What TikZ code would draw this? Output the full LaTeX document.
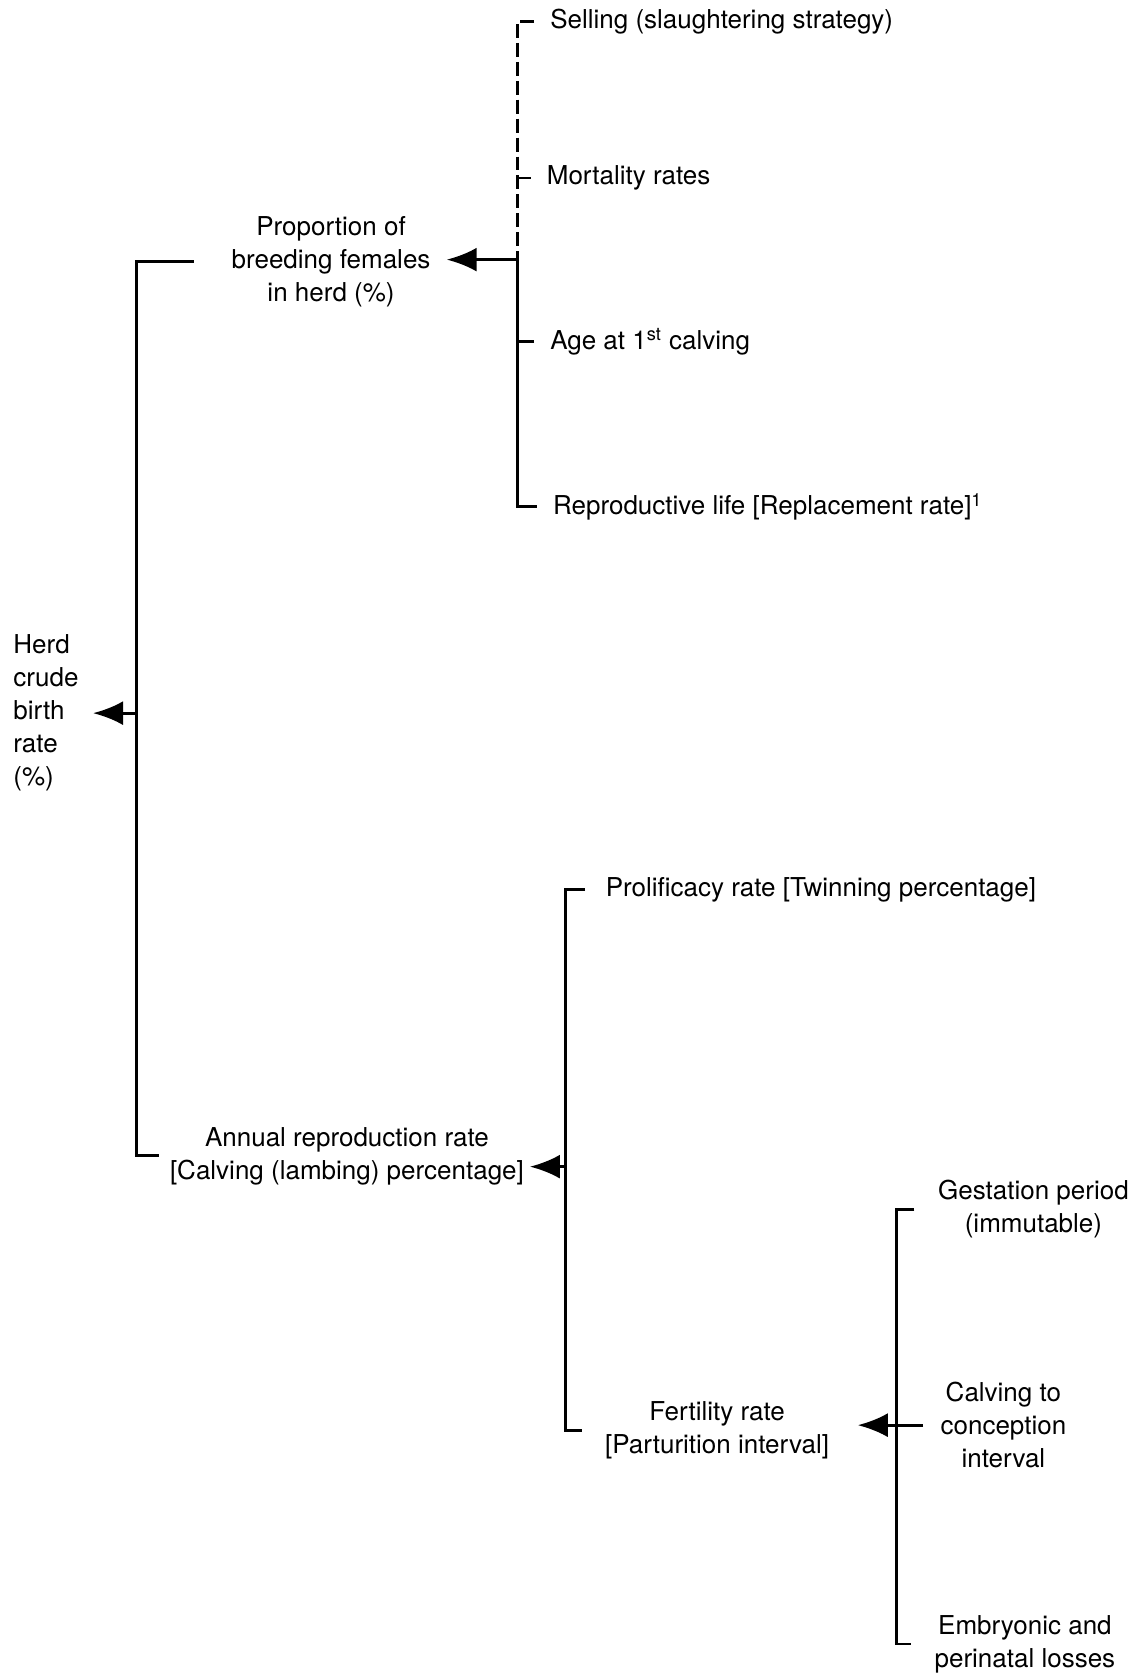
\documentclass[tikz,border=0pt]{standalone}
\usepackage{fontspec}
\setmainfont{TeX Gyre Heros}
\usetikzlibrary{arrows.meta}

\begin{document}
\begin{tikzpicture}[every node/.style={font=\fontsize{13bp}{16.5bp}\selectfont, inner sep=0pt},
    line/.style={line width=1.4pt},
    arr/.style={line width=1.6pt, -{Latex[length=15bp, width=12bp]}}]
    \useasboundingbox (0,0) rectangle (20.05,-29.53);

    % Main factors
    \node[anchor=west, align=left] (herd) at (0.23, -12.58) {Herd\\crude\\birth\\rate\\(\%)};
    \node[align=center] (prop) at (5.84, -4.61) {Proportion of\\breeding females\\in herd (\%)};
    \node[align=center] (annual) at (6.12, -20.39) {Annual reproduction rate\\{[}Calving (lambing) percentage{]}};

    % Factors of the breeding females
    \node[anchor=west] (sell) at (9.70, -0.38) {Selling (slaughtering strategy)};
    \node[anchor=west] (mort) at (9.64, -3.14) {Mortality rates};
    \node[anchor=west] (age) at (9.70, -6.03) {Age at 1\textsuperscript{st} calving};
    \node[anchor=west] (repro) at (9.75, -8.94) {Reproductive life {[}Replacement rate{]}\textsuperscript{1}};

    % Factors of the reproduction rate
    \node[anchor=west] (prolif) at (10.68, -15.69) {Prolificacy rate {[}Twinning percentage{]}};
    \node[align=center] (fert) at (12.65, -25.23) {Fertility rate\\{[}Parturition interval{]}};

    % Factors of the fertility rate
    \node[align=center] (gest) at (18.23, -21.33) {Gestation period\\(immutable)};
    \node[align=center] (calv) at (17.70, -25.14) {Calving to\\conception\\interval};
    \node[align=center] (emb) at (18.08, -29.00) {Embryonic and\\perinatal losses};

    % Bracket junctions
    \coordinate (hj) at (2.41, -12.58);
    \coordinate (pj) at (9.13, -4.58);
    \coordinate (aj) at (9.98, -20.58);
    \coordinate (fj) at (15.82, -25.14);

    % Top bracket
    \draw[line, dash pattern=on 7pt off 2.5pt, shorten <=0.28cm] (sell.west) -| (pj);
    \draw[line, shorten <=0.28cm] (mort.west) -- (mort.west -| pj);
    \draw[line, shorten <=0.28cm] (age.west) -- (age.west -| pj);
    \draw[line, shorten <=0.28cm] (repro.west) -| (pj);
    \draw[arr, shorten >=0.28cm] (pj) -- (prop.east |- pj);

    % Left bracket
    \draw[line, shorten <=0.66cm] (prop.west) -| (hj);
    \draw[line, shorten <=0.19cm] (annual.west) -| (hj);
    \draw[arr, shorten >=0.25cm] (hj) -- (herd.east |- hj);

    % Middle bracket
    \draw[line, shorten <=0.36cm] (prolif.west) -| (aj);
    \draw[line, shorten <=0.41cm] (fert.west) -| (aj);
    \draw[arr, shorten >=0.1cm] (aj) -- (annual.east |- aj);

    % Right bracket
    \draw[line, shorten <=0.41cm] (gest.west) -| (fj);
    \draw[line, shorten <=0.41cm] (emb.west) -| (fj);
    \draw[line, shorten <=0.3cm] (calv.west) -- (calv.west -| fj);
    \draw[arr, shorten >=0.5cm] (fj) -- (fert.east |- fj);
\end{tikzpicture}
\end{document}
